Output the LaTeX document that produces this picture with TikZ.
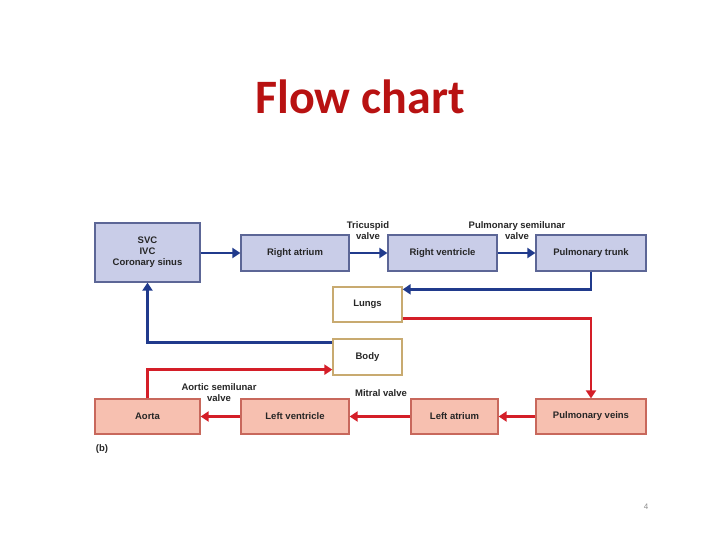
\documentclass[tikz,border=0pt]{standalone}
\usepackage{fontspec}
\setmainfont{Liberation Sans}
\newfontfamily\titlefont{Carlito}
\usetikzlibrary{arrows.meta,calc}
\definecolor{bluefill}{RGB}{201,205,232}
\definecolor{blueedge}{RGB}{92,102,150}
\definecolor{redfill}{RGB}{247,192,176}
\definecolor{rededge}{RGB}{200,104,92}
\definecolor{tanedge}{RGB}{200,170,112}
\definecolor{bluearrow}{RGB}{32,58,140}
\definecolor{redarrow}{RGB}{212,30,40}
\definecolor{titlered}{RGB}{184,18,18}
\tikzset{
  box/.style={draw, line width=1.3pt, inner sep=0pt, align=center,
    font=\fontsize{9.5}{11}\selectfont\bfseries, text=black!85},
  bluebox/.style={box, fill=bluefill, draw=blueedge},
  redbox/.style={box, fill=redfill, draw=rededge},
  tanbox/.style={box, fill=white, draw=tanedge},
  barrow/.style={draw=bluearrow, line width=2.8pt, -{Triangle[length=8pt,width=10pt]}},
  rarrow/.style={draw=redarrow, line width=2.8pt, -{Triangle[length=8pt,width=10pt]}},
  lbl/.style={align=center, inner sep=0pt, font=\fontsize{9.5}{11}\selectfont\bfseries, text=black!85}
}
\begin{document}
\begin{tikzpicture}[x=1pt,y=-1pt]
\useasboundingbox (0,0) rectangle (720,540);
\node[text=titlered, font=\titlefont\fontsize{48}{50}\selectfont\bfseries] (title) at (360,97) {Flow chart};
\node[bluebox, minimum width=105pt, minimum height=59pt] (svc) at (147.5,252.5) {SVC\\IVC\\Coronary sinus};
\node[bluebox, minimum width=108pt, minimum height=36pt] (ra) at (295,253) {Right atrium};
\node[bluebox, minimum width=109pt, minimum height=36pt] (rv) at (442.5,253) {Right ventricle};
\node[bluebox, minimum width=110pt, minimum height=36pt] (pt) at (591,253) {Pulmonary trunk};
\node[tanbox, minimum width=69pt, minimum height=35pt] (lungs) at (367.5,304.5) {Lungs};
\node[tanbox, minimum width=69pt, minimum height=36pt] (body) at (367.5,357) {Body};
\node[redbox, minimum width=105pt, minimum height=35pt] (aorta) at (147.5,416.5) {Aorta};
\node[redbox, minimum width=108pt, minimum height=35pt] (lv) at (295,416.5) {Left ventricle};
\node[redbox, minimum width=87pt, minimum height=35pt] (la) at (454.5,416.5) {Left atrium};
\node[redbox, minimum width=110pt, minimum height=35pt] (pv) at (591,416.5) {Pulmonary veins};
% labels
\node[lbl] (tric) at (368,231) {Tricuspid\\valve};
\node[lbl] (pulsv) at (517,231) {Pulmonary semilunar\\valve};
\node[lbl] (mitral) at (381,393) {Mitral valve};
\node[lbl] (aorsv) at (219,393) {Aortic semilunar\\valve};
\node[font=\fontsize{9.5}{11}\selectfont\bfseries, text=black!85, inner sep=0pt] (b) at (102,449) {(b)};
\node[font=\fontsize{8}{9}\selectfont, text=black!45, inner sep=0pt] (pg) at (646,507) {4};
% arrows
\draw[barrow] (svc.east |- ra.west) -- (ra.west);
\draw[barrow] (ra.east) -- (rv.west);
\draw[barrow] (rv.east) -- (pt.west);
\draw[barrow] (pt.south) |- ($(lungs.north east)+(0,3)$);
\draw[rarrow] ($(lungs.south east)+(0,-4)$) -| (pv.north);
\draw[rarrow] (pv.west) -- (la.east);
\draw[rarrow] (la.west) -- (lv.east);
\draw[rarrow] (lv.west) -- (aorta.east);
\draw[rarrow] (aorta.north) |- ($(body.south west)+(0,-6)$);
\draw[barrow] ($(body.north west)+(0,4)$) -| (svc.south);
\end{tikzpicture}
\end{document}
